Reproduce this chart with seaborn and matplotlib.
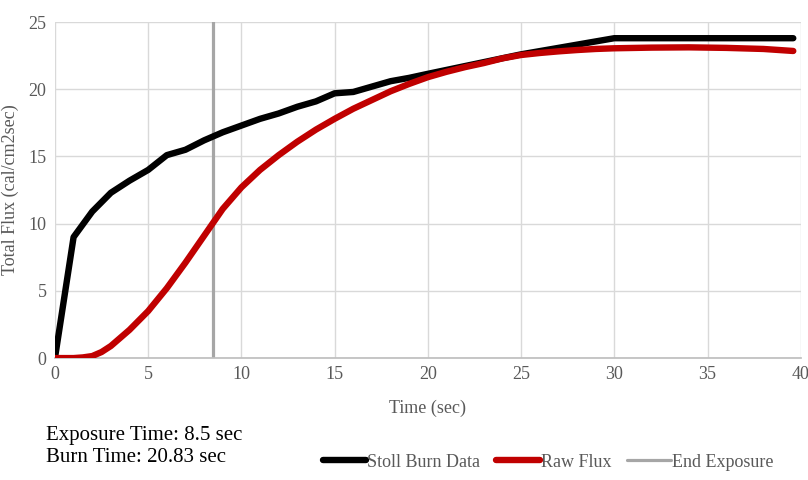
import matplotlib
matplotlib.use('Agg')
import matplotlib.pyplot as plt
import seaborn as sns
import pandas as pd

# Stoll burn curve
stoll_t = [0, 1, 2, 3, 4, 5, 6, 7, 8, 9, 10, 11, 12, 13, 14, 15, 16, 17, 18, 19, 20, 25, 30, 35, 39.6]
stoll_q = [0, 9.0, 10.9, 12.3, 13.2, 14.0, 15.1, 15.5, 16.2, 16.8, 17.3, 17.8, 18.2, 18.7, 19.1, 19.7,
           19.8, 20.2, 20.6, 20.85, 21.15, 22.6, 23.8, 23.8, 23.8]

# raw flux
raw_t = [0, 1, 1.5, 2, 2.5, 3, 4, 5, 6, 7, 8, 9, 10, 11, 12, 13, 14, 15, 16, 17, 18, 19, 20,
         21, 22, 23, 24, 25, 26, 27, 28, 29, 30, 32, 34, 36, 38, 39.6]
raw_q = [0, 0, 0.05, 0.15, 0.45, 0.9, 2.1, 3.5, 5.2, 7.1, 9.1, 11.1, 12.7, 14.0, 15.1, 16.1, 17.0,
         17.8, 18.55, 19.2, 19.85, 20.4, 20.9, 21.3, 21.65, 21.95, 22.3, 22.55, 22.7, 22.82, 22.92,
         23.0, 23.05, 23.1, 23.12, 23.08, 23.0, 22.85]

# end of exposure marker
exp_t = [8.5, 8.5]
exp_q = [0, 25]

exposure_time = 8.5
burn_time = 20.83

sns.set_theme(style='white')
plt.rcParams['font.family'] = ['Liberation Serif', 'DejaVu Serif']

fig = plt.figure(figsize=(8.08, 4.8), dpi=100)
ax = fig.add_axes([0.068, 0.254, 0.923, 0.700])

df1 = pd.DataFrame({'t': stoll_t, 'q': stoll_q})
df2 = pd.DataFrame({'t': raw_t, 'q': raw_q})
df3 = pd.DataFrame({'t': exp_t, 'q': exp_q})

sns.lineplot(data=df3, x='t', y='q', ax=ax, color='#a6a6a6', lw=2.3,
             label='End Exposure', zorder=2, estimator=None, sort=False)
sns.lineplot(data=df1, x='t', y='q', ax=ax, color='black', lw=4.6,
             label='Stoll Burn Data', zorder=3, solid_capstyle='round',
             estimator=None, sort=False)
sns.lineplot(data=df2, x='t', y='q', ax=ax, color='#c00000', lw=4.6,
             label='Raw Flux', zorder=4, solid_capstyle='round',
             estimator=None, sort=False)

ax.set_xlim(0, 40)
ax.set_ylim(0, 25)
ax.set_xticks(range(0, 41, 5))
ax.set_yticks(range(0, 26, 5))
ax.grid(True, color='#d9d9d9', lw=1)
ax.set_axisbelow(True)
for s in ['top', 'right', 'left']:
    ax.spines[s].set_visible(False)
ax.spines['bottom'].set_color('#bfbfbf')
ax.tick_params(axis='both', colors='#595959', labelsize=13, length=0, pad=6)

ax.set_xlabel('Time (sec)', color='#595959', fontsize=13, labelpad=12)
ax.set_ylabel('Total Flux (cal/cm2sec)', color='#595959', fontsize=13, labelpad=7)

# legend order as in the reference
h, l = ax.get_legend_handles_labels()
order = [l.index('Stoll Burn Data'), l.index('Raw Flux'), l.index('End Exposure')]
ax.legend([h[i] for i in order], [l[i] for i in order], loc='center',
          bbox_to_anchor=(0.661, -0.31), ncol=3, frameon=False, fontsize=13,
          handlelength=2.4, handletextpad=0.05, columnspacing=0.9, labelcolor='#595959')

fig.text(0.057, 0.027, 'Exposure Time: %s sec\nBurn Time: %s sec' % (exposure_time, burn_time),
         fontsize=15, color='black', linespacing=1.2, va='bottom')

plt.savefig('out.png', dpi=100)
